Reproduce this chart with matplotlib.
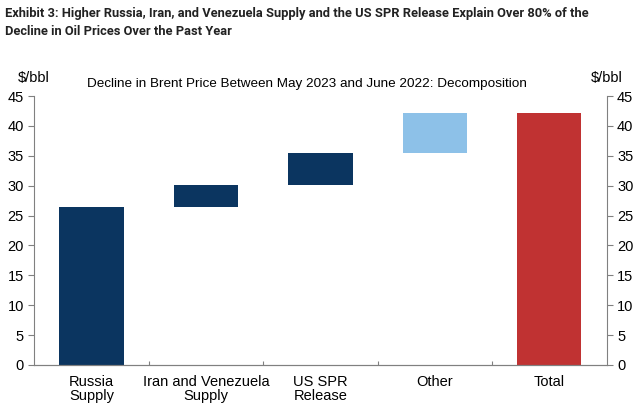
import matplotlib
matplotlib.use('Agg')
import matplotlib.pyplot as plt
import numpy as np

categories = ['Russia\nSupply', 'Iran and Venezuela\nSupply', 'US SPR\nRelease', 'Other', 'Total']
contributions = [26.4, 3.8, 5.25, 6.65]
colors = ['#0B3560', '#0B3560', '#0B3560', '#8DC1E8', '#C03232']

plt.rcParams['font.family'] = ['Liberation Sans', 'DejaVu Sans']


def main():
    # waterfall bottoms / heights from the contributions
    bottoms = list(np.concatenate([[0], np.cumsum(contributions)[:-1]])) + [0]
    heights = contributions + [sum(contributions)]

    fig = plt.figure(figsize=(6.39, 4.07), dpi=100)
    ax = fig.add_axes([0.0537, 0.1032, 0.8957, 0.6608])

    x = np.arange(len(categories))
    ax.bar(x, heights, bottom=bottoms, width=0.56, color=colors)

    ax.set_xlim(-0.5, len(categories) - 0.5)
    ax.set_ylim(0, 45)
    ax.set_yticks(np.arange(0, 46, 5))
    ax.tick_params(axis='y', labelsize=10.5, length=4, color='#808080')

    ax.set_xticks(np.arange(0.5, len(categories) - 1, 1))
    ax.set_xticklabels([])
    ax.tick_params(axis='x', direction='in', length=3, color='#808080')
    for xi, label in zip(x, categories):
        ax.text(xi, -1.6, label, ha='center', va='top', fontsize=10.5,
                linespacing=1.0)

    ax2 = ax.twinx()
    ax2.set_ylim(0, 45)
    ax2.set_yticks(np.arange(0, 46, 5))
    ax2.tick_params(axis='y', labelsize=10.5, length=4, color='#808080')

    for a in (ax, ax2):
        a.spines['top'].set_visible(False)
        for s in ('left', 'right', 'bottom'):
            a.spines[s].set_color('#808080')
    ax.spines['right'].set_visible(False)
    ax2.spines['left'].set_visible(False)

    fig.text(0.008, 0.982, 'Exhibit 3: Higher Russia, Iran, and Venezuela Supply and the US SPR Release Explain Over 80% of the\nDecline in Oil Prices Over the Past Year',
             ha='left', va='top', fontsize=9.3, fontweight='bold',
             family='Roboto', color='#222222', linespacing=1.5)
    fig.text(0.028, 0.79, '$/bbl', ha='left', va='bottom', fontsize=10.5)
    fig.text(0.925, 0.79, '$/bbl', ha='left', va='bottom', fontsize=10.5)
    fig.text(0.48, 0.78, 'Decline in Brent Price Between May 2023 and June 2022: Decomposition',
             ha='center', va='bottom', fontsize=9.7)

    fig.savefig('out.png', dpi=100)
    plt.close(fig)


if __name__ == '__main__':
    main()
